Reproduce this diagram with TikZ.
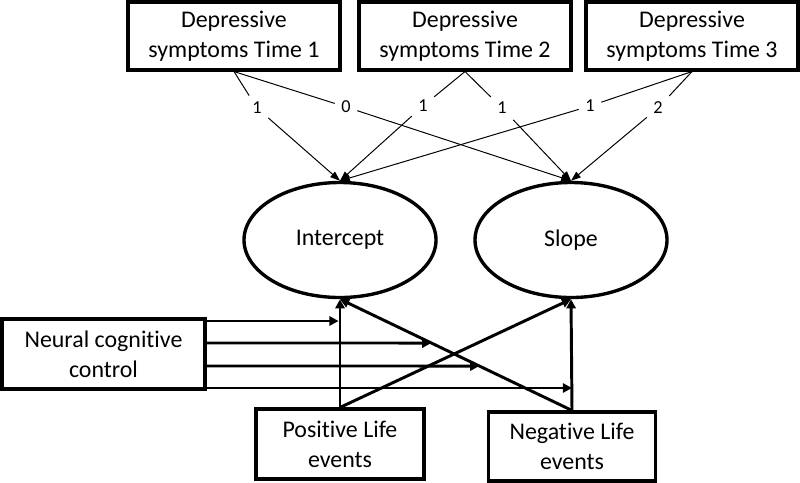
\documentclass[tikz,border=0pt]{standalone}
\usepackage{fontspec}
\setmainfont[Ligatures=NoCommon]{Carlito}
\usetikzlibrary{arrows.meta,shapes.geometric,calc}

\begin{document}
\begin{tikzpicture}[x=0.025cm, y=-0.025cm,
        obs/.style={draw, line width=2.2pt, align=center, inner sep=0pt,
            minimum width=212*0.025cm, minimum height=68*0.025cm,
            font=\fontsize{17}{21.5}\selectfont},
        latent/.style={draw, ellipse, line width=2.4pt, inner sep=0pt,
            minimum width=192*0.025cm, minimum height=115*0.025cm,
            font=\fontsize{17}{21.5}\selectfont},
        coef/.style={inner sep=4.5pt, font=\fontsize{13}{15}\selectfont},
        load/.style={line width=0.7pt},
        loadarr/.style={line width=0.7pt, -{Triangle[length=7pt, width=5pt]}},
        regarr/.style={line width=2.1pt, -{Triangle[length=6.5pt, width=6.5pt]}}]
        \useasboundingbox (0,0) rectangle (800,482);

        \node[obs] (dep1) at (234,36) {Depressive\\symptoms Time 1};
        \node[obs] (dep2) at (465,36) {Depressive\\symptoms Time 2};
        \node[obs] (dep3) at (692,36) {Depressive\\symptoms Time 3};

        \node[latent] (icpt) at (340,240) {Intercept};
        \node[latent] (slope) at (571,240) {Slope};

        \node[obs, minimum width=203*0.025cm, minimum height=70*0.025cm] (ncc) at (103.5,354) {Neural cognitive\\control};
        \node[obs, minimum width=168*0.025cm, minimum height=70*0.025cm] (ple) at (340,444) {Positive Life\\events};
        \node[obs, minimum width=167*0.025cm, minimum height=69*0.025cm] (nle) at (572,446.5) {Negative Life\\events};

        \node[coef] (c11) at (257,108) {1};
        \node[coef] (c12) at (346,107) {0};
        \node[coef] (c21) at (423,106) {1};
        \node[coef] (c22) at (502,108) {1};
        \node[coef] (c31) at (590,106) {1};
        \node[coef] (c32) at (658,108) {2};

        \draw[load] (dep1.south) -- (c11);
        \draw[loadarr] (c11) -- (icpt.north);
        \draw[load] (dep1.south) -- (c12);
        \draw[loadarr] (c12) -- (slope.north);
        \draw[load] (dep2.south) -- (c21);
        \draw[loadarr] (c21) -- (icpt.north);
        \draw[load] (dep2.south) -- (c22);
        \draw[loadarr] (c22) -- (slope.north);
        \draw[load] (dep3.south) -- (c31);
        \draw[loadarr] (c31) -- (icpt.north);
        \draw[load] (dep3.south) -- (c32);
        \draw[loadarr] (c32) -- (slope.north);

        \draw[regarr] (ple.north) -- (icpt.south);
        \draw[regarr] (ple.north) -- (slope.south);
        \draw[regarr] (nle.north) -- (icpt.south);
        \draw[regarr] (nle.north) -- (slope.south);

        \foreach \k/\dy in {1/-33, 2/-11, 3/12, 4/34} {
            \coordinate (ncc\k) at ($(ncc.east)+(0,\dy)$);
            \coordinate (nccR\k) at ($(ncc.east)+(600,\dy)$);
        }
        \draw[regarr, shorten >=1pt] (ncc1) -- (ncc1 -| ple.north);
        \draw[regarr] (ncc2) -- (intersection of ncc2--nccR2 and nle.north--icpt.south);
        \draw[regarr] (ncc3) -- (intersection of ncc3--nccR3 and nle.north--icpt.south);
        \draw[regarr] (ncc4) -- (ncc4 -| nle.north);
    \end{tikzpicture}
\end{document}
